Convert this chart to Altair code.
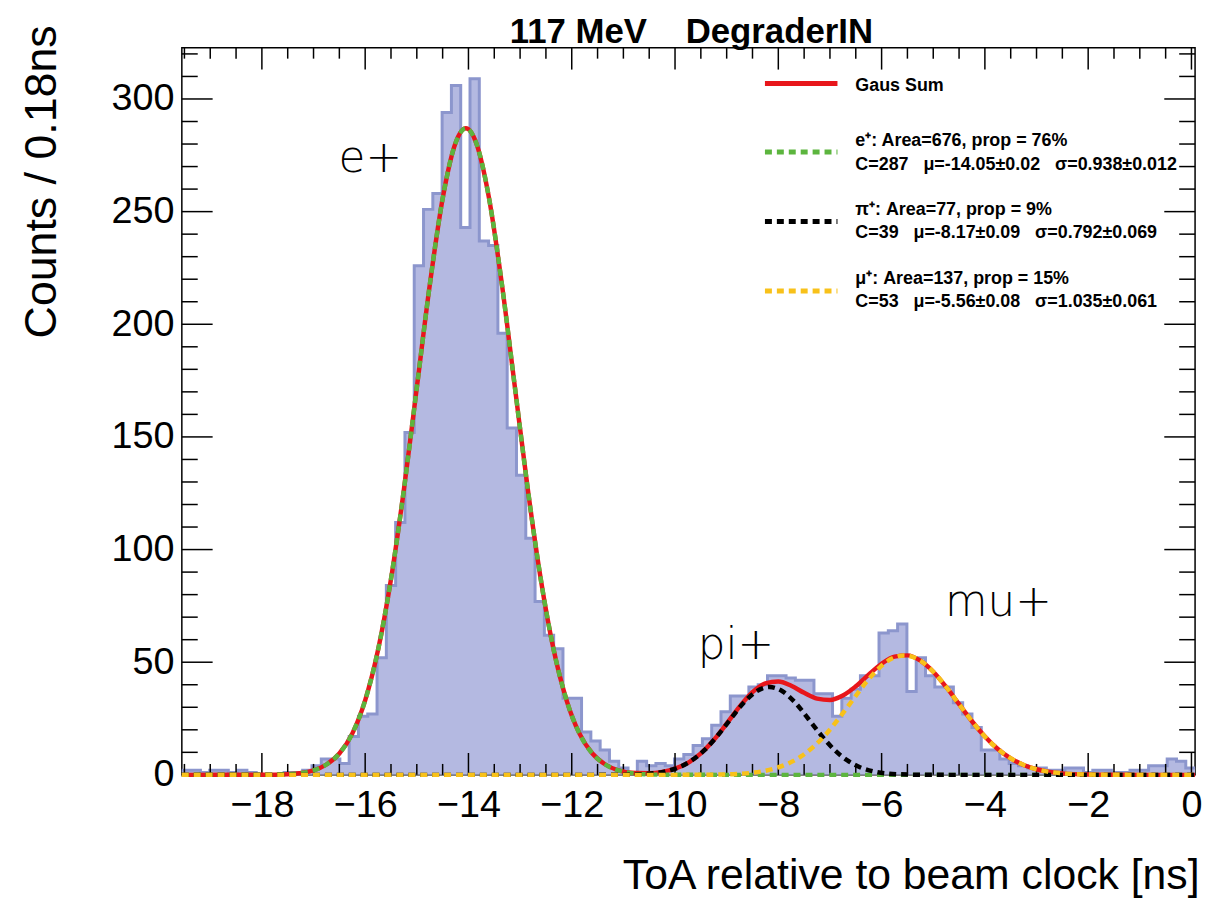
import altair as alt
import pandas as pd

# ---------------- data ----------------
BIN_START = -19.55
BIN_WIDTH = 0.18
counts = [2, 2, 1, 2, 2, 1, 2, 1, 0, 0,
          0, 1, 1, 2, 4, 7, 7, 5, 17, 26,
          27, 52, 84, 112, 152, 226, 251, 258, 294, 306,
          243, 309, 237, 235, 196, 154, 133, 105, 77, 62,
          56, 34, 34, 19, 15, 11, 6, 3, 1, 6,
          4, 5, 4, 7, 9, 13, 16, 22, 28, 35,
          35, 39, 40, 44, 44, 43, 42, 42, 36, 36,
          26, 34, 38, 44, 44, 63, 64, 67, 37, 52,
          44, 39, 39, 32, 27, 21, 11, 11, 7, 5,
          4, 3, 3, 2, 2, 3, 3, 1, 2, 2,
          1, 1, 2, 2, 4, 4, 7, 6, 3]

# fitted curves
e_x = [-19.55, -18.0, -17.5, -17.0, -16.75, -16.5, -16.25, -16.0, -15.75, -15.5, -15.25, -15.0,
       -14.75, -14.5, -14.25, -14.05, -13.85, -13.6, -13.35, -13.1, -12.85, -12.6, -12.35,
       -12.1, -11.85, -11.6, -11.35, -11.1, -10.6, -10.1, -9.0, 0.07]
e_y = [0, 0.04, 0.3, 2.0, 4.6, 9.5, 18.3, 33.1, 55.5, 86.9, 126.6, 171.9,
       217.3, 255.8, 280.5, 287, 280.5, 255.8, 217.3, 171.9, 126.6, 86.9, 55.5,
       33.1, 18.3, 9.5, 4.6, 2.0, 0.3, 0.04, 0, 0]

pi_x = [-19.55, -11.67, -11.17, -10.67, -10.17, -9.92, -9.67, -9.42, -9.17, -8.92, -8.67, -8.42,
        -8.17, -7.92, -7.67, -7.42, -7.17, -6.92, -6.67, -6.42, -6.17, -5.67, -5.17, -4.67, 0.07]
pi_y = [0, 0, 0.03, 0.27, 1.6, 3.4, 6.5, 11.2, 17.6, 24.9, 32.0, 37.1,
        39.0, 37.1, 32.0, 24.9, 17.6, 11.2, 6.5, 3.4, 1.6, 0.27, 0.03, 0, 0]

mu_x = [-19.55, -10.06, -9.56, -9.06, -8.56, -8.31, -8.06, -7.81, -7.56, -7.31, -7.06, -6.81,
        -6.56, -6.31, -6.06, -5.81, -5.56, -5.31, -5.06, -4.81, -4.56, -4.31, -4.06, -3.81,
        -3.56, -3.31, -3.06, -2.81, -2.56, -2.06, -1.56, -1.06, 0.07]
mu_y = [0, 0, 0.03, 0.17, 0.79, 1.55, 2.9, 5.0, 8.2, 12.7, 18.5, 25.6,
        33.2, 40.8, 47.2, 51.5, 53.0, 51.5, 47.2, 40.8, 33.2, 25.6, 18.5, 12.7,
        8.2, 5.0, 2.9, 1.55, 0.79, 0.17, 0.03, 0, 0]

sum_x = [-19.55, -18.0, -17.5, -17.0, -16.75, -16.5, -16.25, -16.0, -15.75, -15.5, -15.25, -15.0,
         -14.75, -14.5, -14.25, -14.05, -13.85, -13.6, -13.35, -13.1, -12.85, -12.6, -12.35,
         -12.1, -11.85, -11.6, -11.35, -11.1,
         -10.75, -10.5, -10.25, -10.0, -9.75, -9.5, -9.25, -9.0, -8.75, -8.5, -8.25, -8.0,
         -7.75, -7.5, -7.25, -7.0, -6.75, -6.5, -6.25, -6.0, -5.75, -5.5, -5.25, -5.0,
         -4.75, -4.5, -4.25, -4.0, -3.75, -3.5, -3.25, -3.0, -2.75, -2.5, -2.0, -1.5, -1.0, 0.07]
sum_y = [0, 0.04, 0.3, 2.0, 4.6, 9.5, 18.3, 33.1, 55.5, 86.9, 126.6, 171.9,
         217.3, 255.8, 280.5, 287, 280.5, 255.8, 217.3, 171.9, 126.6, 86.9, 55.5,
         33.1, 18.3, 9.5, 4.6, 2.04,
         0.78, 0.74, 1.32, 2.73, 5.35, 9.56, 15.48, 22.73, 30.29, 36.7, 40.61, 41.4,
         39.53, 36.42, 33.84, 33.23, 35.19, 39.31, 44.5, 49.33, 52.49, 53.04, 50.72, 45.79,
         39.02, 31.37, 23.79, 17.02, 11.48, 7.31, 4.39, 2.49, 1.33, 0.67, 0.14, 0.02, 0, 0]

x_major = [-18, -16, -14, -12, -10, -8, -6, -4, -2, 0]
x_minor = [-19.5, -19, -18.5, -17.5, -17, -16.5, -15.5, -15, -14.5, -13.5, -13, -12.5,
           -11.5, -11, -10.5, -9.5, -9, -8.5, -7.5, -7, -6.5, -5.5, -5, -4.5,
           -3.5, -3, -2.5, -1.5, -1, -0.5]
y_major = [0, 50, 100, 150, 200, 250, 300]
y_minor = [10, 20, 30, 40, 60, 70, 80, 90, 110, 120, 130, 140, 160, 170, 180, 190,
           210, 220, 230, 240, 260, 270, 280, 290, 310, 320]

ann_text = ["e+", "pi+", "mu+"]
ann_x = [-15.9, -8.82, -3.74]
ann_y = [267.5, 51.6, 70.5]

legend_head = ["Gaus Sum",
               "e\u207a: Area=676, prop = 76%",
               "\u03c0\u207a: Area=77, prop = 9%",
               "\u03bc\u207a: Area=137, prop = 15%"]
legend_sub = ["",
              "C=287\u00a0\u00a0\u00a0\u03bc=-14.05\u00b10.02\u00a0\u00a0\u00a0\u03c3=0.938\u00b10.012",
              "C=39\u00a0\u00a0\u00a0\u03bc=-8.17\u00b10.09\u00a0\u00a0\u00a0\u03c3=0.792\u00b10.069",
              "C=53\u00a0\u00a0\u00a0\u03bc=-5.56\u00b10.08\u00a0\u00a0\u00a0\u03c3=1.035\u00b10.061"]

TITLE = "117 MeV\u00a0\u00a0\u00a0\u00a0DegraderIN"

# ---------------- styling ----------------
W, H = 1020, 732
FONT = "Liberation Sans, Arial, Helvetica, sans-serif"
RED, GREEN, BLACK, YELLOW = "#e8161b", "#5cb53e", "#000000", "#f8c11a"
FILL, EDGE = "#b4b9e1", "#8c96cd"
DASH = [7, 5]

xs = alt.Scale(domain=[BIN_START, 0.07], nice=False, zero=False)
ys = alt.Scale(domain=[0, 322.75], nice=False, zero=False)

# histogram points (step-after): bin starts plus closing edge
hx = [BIN_START + BIN_WIDTH * k for k in range(len(counts) + 1)]
hc = counts + [counts[-1]]
hist = pd.DataFrame({"x": hx, "c": hc})

x_axis = alt.Axis(values=x_major, ticks=False, domain=False, grid=False,
                  labelFont=FONT, labelFontSize=38, labelColor="black", labelPadding=12,
                  title="ToA relative to beam clock [ns]", titleFont=FONT,
                  titleFontSize=43, titleFontWeight="normal", titleColor="black",
                  titleAnchor="end", titleAlign="right", titleBaseline="middle",
                  titleX=W + 4, titleY=101)
y_axis = alt.Axis(values=y_major, ticks=False, domain=False, grid=False,
                  labelFont=FONT, labelFontSize=38, labelColor="black", labelPadding=8,
                  title="Counts / 0.18ns", titleFont=FONT, titleFontSize=45,
                  titleFontWeight="normal", titleColor="black", titleAngle=270,
                  titleAlign="right", titleBaseline="middle", titleX=-141, titleY=-23)


def X(field):
    return alt.X(field, scale=xs, axis=x_axis)


def Y(field):
    return alt.Y(field, scale=ys, axis=y_axis)


fill = alt.Chart(hist).mark_area(interpolate="step-after", color=FILL, opacity=1).encode(
    x=X("x:Q"), y=Y("c:Q"))
edge = alt.Chart(hist).mark_line(interpolate="step-after", color=EDGE, strokeWidth=3).encode(
    x=X("x:Q"), y=Y("c:Q"))


def curve(xv, yv, color, dashed):
    kw = dict(interpolate="monotone", color=color, strokeWidth=4.5)
    if dashed:
        kw["strokeDash"] = DASH
    df = pd.DataFrame({"x": xv, "y": yv})
    return alt.Chart(df).mark_line(**kw).encode(x=X("x:Q"), y=Y("y:Q"))


c_sum = curve(sum_x, sum_y, RED, False)
c_e = curve(e_x, e_y, GREEN, True)
c_pi = curve(pi_x, pi_y, BLACK, True)
c_mu = curve(mu_x, mu_y, YELLOW, True)


def xticks(vals, length):
    df = pd.DataFrame({"x": vals})
    bot = alt.Chart(df).mark_rule(color="black", strokeWidth=1.5).encode(
        x=X("x:Q"), y=alt.value(H), y2=alt.value(H - length))
    top = alt.Chart(df).mark_rule(color="black", strokeWidth=1.5).encode(
        x=X("x:Q"), y=alt.value(0), y2=alt.value(length))
    return [bot, top]


def yticks(vals, length):
    df = pd.DataFrame({"c": vals})
    left = alt.Chart(df).mark_rule(color="black", strokeWidth=1.5).encode(
        y=Y("c:Q"), x=alt.value(0), x2=alt.value(length))
    right = alt.Chart(df).mark_rule(color="black", strokeWidth=1.5).encode(
        y=Y("c:Q"), x=alt.value(W), x2=alt.value(W - length))
    return [left, right]


ticks = xticks(x_major, 22) + xticks(x_minor, 11) + yticks(y_major, 31) + yticks(y_minor, 16)

ann = alt.Chart(pd.DataFrame({"t": ann_text, "x": ann_x, "c": ann_y})).mark_text(
    font="DejaVu Sans, Open Sans, sans-serif", fontWeight=200, fontSize=44,
    align="center", baseline="alphabetic", color="black").encode(
    x=X("x:Q"), y=Y("c:Q"), text="t:N")

# chart title drawn as text above the frame
title = alt.Chart(pd.DataFrame({"t": [TITLE]})).mark_text(
    font="Liberation Sans Narrow, Liberation Sans, Arial", fontSize=35, fontWeight="bold",
    align="center", baseline="alphabetic", color="black").encode(
    x=alt.value(W / 2 + 3), y=alt.value(-5), text="t:N")

# legend (ROOT TLegend style) inside the frame
leg_colors = [RED, GREEN, BLACK, YELLOW]
leg_dashed = [False, True, True, True]
leg_line_y = [36, 105, 175, 245]
leg_head_y = [39, 94, 163, 233]
leg_sub_y = [None, 118, 187, 256]
LEG_X0, LEG_X1, LEG_TX = 587, 660, 678

legend_layers = []
for i in range(4):
    kw = dict(color=leg_colors[i], strokeWidth=5)
    if leg_dashed[i]:
        kw["strokeDash"] = DASH
    legend_layers.append(
        alt.Chart(pd.DataFrame({"k": [i]})).mark_rule(**kw).encode(
            x=alt.value(LEG_X0), x2=alt.value(LEG_X1), y=alt.value(leg_line_y[i])))
    legend_layers.append(
        alt.Chart(pd.DataFrame({"t": [legend_head[i]]})).mark_text(
            font=FONT, fontSize=18, fontWeight="bold", align="left",
            baseline="middle", color="black").encode(
            x=alt.value(LEG_TX), y=alt.value(leg_head_y[i]), text="t:N"))
    if legend_sub[i]:
        legend_layers.append(
            alt.Chart(pd.DataFrame({"t": [legend_sub[i]]})).mark_text(
                font=FONT, fontSize=18, fontWeight="bold", align="left",
                baseline="middle", color="black").encode(
                x=alt.value(LEG_TX), y=alt.value(leg_sub_y[i]), text="t:N"))

chart = alt.layer(fill, edge, *ticks, c_sum, c_e, c_pi, c_mu, ann, title,
                  *legend_layers).properties(
    width=W, height=H,
    padding={"left": 175, "top": 37, "right": 11, "bottom": 125},
    autosize=alt.AutoSizeParams(type="none"),
).configure_view(stroke="black", strokeWidth=1.5)

chart.save("out.html", embed_options={"renderer": "svg", "actions": False})
